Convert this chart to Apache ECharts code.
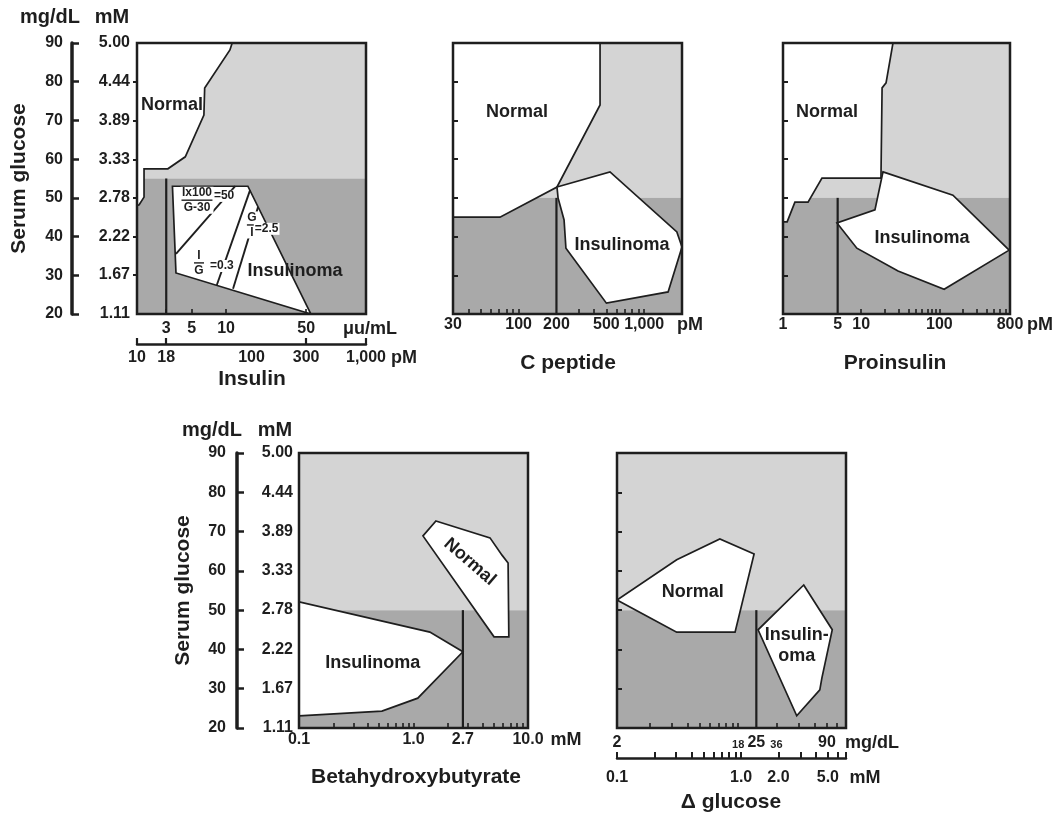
<!DOCTYPE html>
<html>
<head>
<meta charset="utf-8">
<script src="https://cdn.jsdelivr.net/npm/echarts@6/dist/echarts.min.js"></script>
<style>html,body{margin:0;padding:0;background:#fff}#c{width:1060px;height:813px}</style>
</head>
<body>
<div id="c"></div>
<script>
// ---------------- DATA ----------------
// Shared serum glucose scale
const glucoseRange = [20, 90];              // mg/dL
const glucoseMmRange = [1.11, 5.00];        // mM
const glucoseMmLabels = [1.11, 1.67, 2.22, 2.78, 3.33, 3.89, 4.44, 5.00];
const glucoseMmTicks = [1.67, 2.22, 2.78, 3.33, 3.89, 4.44];
const glucoseInnerTicks = [30, 40, 50, 60, 70, 80];

// Panel 1 - Insulin (x in μu/mL, second scale in pM)
const insulinUuRange = [10 / 6, 1000 / 6];
const insulinPmRange = [10, 1000];
const insulinUuLabels = [3, 5, 10, 50];
const insulinPmLabels = [10, 18, 100, 300, 1000];
const insulinPmTicks = [10, 18, 300, 1000];
const insulinSplit = 55;
const insulinCut = [[3, 20], [3, 55]];
const insulinNormal = [[1.667, 90], [11.3, 90], [10.8, 88.2], [6.5, 78.4], [6.4, 71.4], [4.4, 60.6], [3.1, 57.5], [1.92, 57.5], [1.92, 50.2], [1.74, 48.2], [1.667, 48]];
const insulinInsulinoma = [[3.4, 53], [15.5, 53], [55, 20], [3.65, 30.6]];
const insulinRatioIx = [[3.65, 35.5], [12, 53]];
const insulinRatioIG = [[8.3, 27.5], [16.2, 52]];
const insulinRatioGI = [[11.5, 26.5], [19, 47.6]];
const insulinText = [
  { name: 'Normal', value: [3.37, 74] },
  { name: 'Insulinoma', value: [40, 31.1] }
];
const insulinFormulas = [
  { name: 'Ix100|G-30|b30', value: [5.57, 49.4] },
  { name: '=50', value: [9.6, 50.5] },
  { name: 'I|G|b8', value: [5.8, 33.2] },
  { name: '=0.3', value: [9.2, 32.4] },
  { name: 'G|I|b8', value: [16.8, 43.0] },
  { name: '=2.5', value: [22.6, 42.0] }
];

// Panel 2 - C peptide (pM)
const cpepRange = [30, 2000];
const cpepLabels = [30, 100, 200, 500, 1000];
const cpepTicks = [40, 50, 60, 70, 80, 90, 100, 300, 400, 500, 600, 700, 800, 900, 1000];
const cpepSplit = 50;
const cpepCut = [[200, 20], [200, 50]];
const cpepNormal = [[30, 90], [445, 90], [445, 74], [202, 52.8], [71, 45], [30, 45]];
const cpepInsulinoma = [[202, 52.8], [534, 56.7], [1820, 41.2], [2000, 37.3], [1550, 25.7], [500, 22.8], [238, 37], [230, 44.3], [206, 50]];
const cpepText = [
  { name: 'Normal', value: [97, 72.2] },
  { name: 'Insulinoma', value: [666, 37.8] }
];

// Panel 3 - Proinsulin (pM)
const proinsRange = [1, 800];
const proinsLabels = [1, 5, 10, 100, 800];
const proinsTicks = [10, 20, 30, 40, 50, 60, 70, 80, 90, 100, 200, 300, 400, 500, 600, 700, 800];
const proinsSplit = 50;
const proinsCut = [[5, 20], [5, 50]];
const proinsNormal = [[1, 90], [25.5, 90], [20.8, 79.7], [18.5, 78.4], [17.9, 55.1], [3.15, 55.1], [2.09, 48.9], [1.42, 48.9], [1.13, 43.8], [1, 43.8]];
const proinsInsulinoma = [[19, 56.7], [149, 50.7], [780, 36.5], [115, 26.4], [29.6, 31.1], [8.8, 37], [4.9, 43.5], [15, 46.9]];
const proinsText = [
  { name: 'Normal', value: [3.65, 72.2] },
  { name: 'Insulinoma', value: [60, 39.6] }
];

// Panel 4 - Betahydroxybutyrate (mM)
const bhbRange = [0.1, 10];
const bhbLabels = [0.1, 1.0, 2.7, 10.0];
const bhbTicks = [0.2, 0.3, 0.4, 0.5, 0.6, 0.7, 0.8, 0.9, 1.0, 2, 3, 4, 5, 6, 7, 8, 9];
const bhbSplit = 50;
const bhbCut = [[2.7, 20], [2.7, 50]];
const bhbNormal = [[1.57, 72.7], [4.66, 68.4], [5.93, 64], [6.7, 62], [6.8, 43.2], [5.05, 43.2], [1.21, 68.9]];
const bhbInsulinoma = [[0.1, 52.1], [1.39, 44.4], [2.7, 39.4], [1.09, 27.6], [0.53, 24.3], [0.1, 23.1]];
const bhbText = [
  { name: 'Normal', value: [3.1, 62.3] },
  { name: 'Insulinoma', value: [0.44, 36.6] }
];

// Panel 5 - Δ glucose (mg/dL and mM)
const dgluMgRange = [2, 127];
const dgluMmRange = [0.1, 7.0];
const dgluMgLabels = [2, 18, 25, 36, 90];
const dgluMgTicks = [3.6, 5.4, 7.2, 9, 10.8, 12.6, 14.4, 16.2, 18, 36, 54, 72, 90, 108];
const dgluMmLabels = [0.1, 1.0, 2.0, 5.0];
const dgluMmTicks = [0.1, 0.2, 0.3, 0.4, 0.5, 0.6, 0.7, 0.8, 0.9, 1.0, 2, 3, 4, 5, 6, 7];
const dgluSplit = 50;
const dgluCut = [[25, 20], [25, 50]];
const dgluNormal = [[2, 52.6], [5.9, 62.8], [12.9, 68.1], [24, 64.3], [17, 44.4], [5.9, 44.4]];
const dgluInsulinoma = [[59, 56.4], [99, 45], [82, 32.7], [79, 29.7], [52, 23.1], [25.8, 45]];
const dgluText = [
  { name: 'Normal', value: [7.9, 54.6] },
  { name: 'Insulin-\noma', value: [52, 41.1] }
];

// ---------------- STYLE HELPERS ----------------
const INK = '#1e1e1e';
const LIGHT = '#d4d4d4';
const DARK = '#a9a9a9';
const FONT = '"Liberation Sans", Arial, Helvetica, sans-serif';
function txt(size, extra) {
  return Object.assign({ color: INK, fontFamily: FONT, fontWeight: 'bold', fontSize: size }, extra || {});
}
function withComma(v) {
  const n = Math.round(v);
  return n >= 1000 ? n.toLocaleString('en-US') : String(n);
}
function fixed1(v) { return (Math.round(v * 10) / 10).toFixed(1); }
function fixed2(v) { return v.toFixed(2); }
function yNameStyle(size, dx) {
  return txt(size, { align: 'center', verticalAlign: 'middle', padding: [0, Math.max(-2 * dx, 0), 0, Math.max(2 * dx, 0)] });
}
function xNameStyle(size, dy) {
  // text centred in a line box of 2*dy, hung from the axis line => centre lies dy below it
  return txt(size, { align: 'center', verticalAlign: 'top', lineHeight: 2 * dy });
}

function logX(grid, range, labels, ticks, fmt, margin, name, gap, dy, extra) {
  return Object.assign({
    type: 'log', logBase: 10, gridIndex: grid, min: range[0], max: range[1], position: 'bottom', z: 10,
    axisLine: { show: false },
    splitLine: { show: false }, minorTick: { show: false }, minorSplitLine: { show: false },
    axisTick: { show: true, inside: true, length: 5, customValues: ticks, lineStyle: { color: INK, width: 1.6 } },
    axisLabel: Object.assign({ customValues: labels, formatter: fmt, margin: margin, hideOverlap: false }, txt(16)),
    name: name, nameLocation: 'end', nameGap: gap, nameMoveOverlap: false, nameTextStyle: xNameStyle(18, dy)
  }, extra || {});
}
function innerY(grid) {
  return {
    type: 'value', gridIndex: grid, min: glucoseRange[0], max: glucoseRange[1], z: 10,
    axisLine: { show: false }, splitLine: { show: false },
    axisTick: { show: true, inside: true, length: 5, customValues: glucoseInnerTicks, lineStyle: { color: INK, width: 2 } },
    axisLabel: { show: false }
  };
}
function mmY(grid, margin, ticks, gap, dx) {
  return {
    type: 'value', gridIndex: grid, min: glucoseMmRange[0], max: glucoseMmRange[1], position: 'left', z: 10,
    axisLine: { show: false }, splitLine: { show: false },
    axisTick: ticks ? { show: true, inside: false, length: 4, customValues: glucoseMmTicks, lineStyle: { color: INK, width: 2 } } : { show: false },
    axisLabel: Object.assign({ customValues: glucoseMmLabels, formatter: fixed2, margin: margin }, txt(16)),
    name: 'mM', nameLocation: 'end', nameGap: gap, nameTextStyle: yNameStyle(20, dx)
  };
}
function mgY(grid, offset, margin, gap, dx) {
  return {
    type: 'value', gridIndex: grid, min: glucoseRange[0], max: glucoseRange[1], interval: 10, position: 'left', offset: offset, z: 10,
    axisLine: { show: true, lineStyle: { color: INK, width: 3.5 } }, splitLine: { show: false },
    axisTick: { show: true, inside: true, length: 7, lineStyle: { color: INK, width: 2.5 } },
    axisLabel: Object.assign({ margin: margin }, txt(16)),
    name: 'mg/dL', nameLocation: 'end', nameGap: gap, nameTextStyle: yNameStyle(20, dx)
  };
}
function titleY(grid, offset, gap) {
  return {
    type: 'value', gridIndex: grid, min: glucoseRange[0], max: glucoseRange[1], position: 'left', offset: offset,
    axisLine: { show: false }, axisTick: { show: false }, axisLabel: { show: false }, splitLine: { show: false },
    name: 'Serum glucose', nameLocation: 'middle', nameGap: gap, nameRotate: 90, nameTextStyle: txt(21)
  };
}

const series = [];
function poly(xi, yi, pts, fill, stroke, z) {
  return {
    type: 'custom', coordinateSystem: 'cartesian2d', xAxisIndex: xi, yAxisIndex: yi, z: z, silent: true, clip: true,
    data: pts, encode: { x: 0, y: 1 },
    renderItem: function (params, api) {
      if (params.dataIndex !== 0) return null;
      return {
        type: 'polygon',
        shape: { points: pts.map(function (p) { return api.coord(p); }) },
        style: { fill: fill, stroke: stroke ? INK : null, lineWidth: 1.7, lineJoin: 'miter' }
      };
    }
  };
}
function background(xi, yi, xr, split) {
  const top = glucoseRange[1], bot = glucoseRange[0];
  series.push(poly(xi, yi, [[xr[0], split], [xr[1], split], [xr[1], top], [xr[0], top]], LIGHT, false, 1));
  series.push(poly(xi, yi, [[xr[0], bot], [xr[1], bot], [xr[1], split], [xr[0], split]], DARK, false, 1));
}
function seg(xi, yi, pts, w) {
  series.push({
    type: 'line', xAxisIndex: xi, yAxisIndex: yi, data: pts, symbol: 'none', silent: true, z: 6,
    lineStyle: { color: INK, width: w }
  });
}
function texts(xi, yi, items, size, opts) {
  opts = opts || {};
  series.push({
    type: 'custom', coordinateSystem: 'cartesian2d', xAxisIndex: xi, yAxisIndex: yi, z: 8, silent: true, clip: false,
    data: items.map(function (it) { return it.value; }), encode: { x: 0, y: 1 },
    renderItem: function (params, api) {
      const it = items[params.dataIndex];
      const p = api.coord(it.value);
      const style = {
        text: opts.format ? opts.format(it.name) : it.name,
        fill: INK, fontSize: size, fontWeight: 'bold', fontFamily: FONT,
        align: 'center', verticalAlign: 'middle', lineHeight: opts.lineHeight || size + 3
      };
      if (opts.bg) { style.backgroundColor = opts.bg; style.padding = [0, 1, 0, 1]; }
      if (opts.rich) style.rich = opts.rich;
      const rot = (opts.rotate && opts.rotate[it.name]) || 0;
      return { type: 'text', x: p[0], y: p[1], rotation: rot * Math.PI / 180, style: style };
    }
  });
}
function panel(xi, yi, xr, split, normal, insulinoma, cut, labels, textOpts) {
  background(xi, yi, xr, split);
  series.push(poly(xi, yi, normal, '#ffffff', true, 3));
  series.push(poly(xi, yi, insulinoma, '#ffffff', true, 3));
  seg(xi, yi, cut, 2.2);
  texts(xi, yi, labels, 18, textOpts);
}

// ---- panels ----
panel(0, 1, insulinUuRange, insulinSplit, insulinNormal, insulinInsulinoma, insulinCut, insulinText);
seg(0, 1, insulinRatioIx, 1.9);
seg(0, 1, insulinRatioIG, 1.9);
seg(0, 1, insulinRatioGI, 1.9);
const fracFont = { fill: INK, fontSize: 12, fontWeight: 'bold', fontFamily: FONT, lineHeight: 12 };
texts(0, 1, insulinFormulas, 12, {
  bg: '#ffffff', lineHeight: 12,
  format: function (name) {
    const parts = name.split('|');
    if (parts.length === 3) return '{n|' + parts[0] + '}\n{' + parts[2] + '| }\n{n|' + parts[1] + '}';
    return name;
  },
  rich: {
    n: Object.assign({ align: 'center' }, fracFont),
    b30: { width: 31, height: 1.4, lineHeight: 3, fontSize: 1, backgroundColor: INK, align: 'center' },
    b8: { width: 10, height: 1.4, lineHeight: 3, fontSize: 1, backgroundColor: INK, align: 'center' }
  }
});
panel(2, 3, cpepRange, cpepSplit, cpepNormal, cpepInsulinoma, cpepCut, cpepText);
panel(3, 4, proinsRange, proinsSplit, proinsNormal, proinsInsulinoma, proinsCut, proinsText);
panel(4, 6, bhbRange, bhbSplit, bhbNormal, bhbInsulinoma, bhbCut, bhbText, { rotate: { 'Normal': -41 } });
panel(5, 8, dgluMgRange, dgluSplit, dgluNormal, dgluInsulinoma, dgluCut, dgluText, { lineHeight: 21 });

const gridBase = { show: true, borderColor: INK, borderWidth: 2.5, backgroundColor: 'transparent', z: 10, containLabel: false, outerBoundsMode: 'none' };
const dgluMgFmt = function (v) {
  const n = Math.round(v);
  return (n === 18 || n === 36) ? '{s|' + n + '}' : String(n);
};
const option = {
  animation: false,
  backgroundColor: '#ffffff',
  grid: [
    Object.assign({ left: 137, top: 43, width: 229, height: 271 }, gridBase),
    Object.assign({ left: 453, top: 43, width: 229, height: 271 }, gridBase),
    Object.assign({ left: 783, top: 43, width: 227, height: 271 }, gridBase),
    Object.assign({ left: 299, top: 453, width: 229, height: 275 }, gridBase),
    Object.assign({ left: 617, top: 453, width: 229, height: 275 }, gridBase)
  ],
  xAxis: [
    logX(0, insulinUuRange, insulinUuLabels, insulinUuLabels, withComma, 7, 'μu/mL', 4, 15),
    logX(0, insulinPmRange, insulinPmLabels, insulinPmTicks, withComma, 6, 'pM', 38, 14, {
      offset: 30, axisLine: { show: true, lineStyle: { color: INK, width: 2.5 } },
      axisTick: { show: true, inside: true, length: 6, customValues: insulinPmTicks, lineStyle: { color: INK, width: 2.2 } }
    }),
    logX(1, cpepRange, cpepLabels, cpepTicks, withComma, 3, 'pM', 8, 11),
    logX(2, proinsRange, proinsLabels, proinsTicks, withComma, 3, 'pM', 30, 11),
    logX(3, bhbRange, bhbLabels, bhbTicks, fixed1, 4, 'mM', 38, 12),
    logX(4, dgluMgRange, dgluMgLabels, dgluMgTicks, dgluMgFmt, 7, 'mg/dL', 26, 15, {
      axisLabel: Object.assign({
        customValues: dgluMgLabels, margin: 7, hideOverlap: false, formatter: dgluMgFmt,
        rich: { s: txt(11, { padding: [4, 0, 0, 0] }) }
      }, txt(16))
    }),
    logX(4, dgluMmRange, dgluMmLabels, dgluMmTicks, fixed1, 12, 'mM', 19, 20, {
      offset: 30, axisLine: { show: true, lineStyle: { color: INK, width: 2.5 } },
      axisTick: { show: true, inside: true, length: 6, customValues: dgluMmTicks, lineStyle: { color: INK, width: 2 } }
    })
  ],
  yAxis: [
    mmY(0, 7, true, 26, -25),
    mgY(0, 65, 9, 26, -22),
    titleY(0, 65, 42),
    innerY(1),
    innerY(2),
    mmY(3, 6, false, 23, -24),
    mgY(3, 62, 11, 23, -25),
    titleY(3, 62, 43),
    innerY(4)
  ],
  graphic: [
    { type: 'text', x: 252, y: 379, style: { text: 'Insulin', fill: INK, font: 'bold 21px ' + FONT, align: 'center', verticalAlign: 'middle', textAlign: 'center', textVerticalAlign: 'middle' } },
    { type: 'text', x: 568, y: 363, style: { text: 'C peptide', fill: INK, font: 'bold 21px ' + FONT, align: 'center', verticalAlign: 'middle', textAlign: 'center', textVerticalAlign: 'middle' } },
    { type: 'text', x: 895, y: 363, style: { text: 'Proinsulin', fill: INK, font: 'bold 21px ' + FONT, align: 'center', verticalAlign: 'middle', textAlign: 'center', textVerticalAlign: 'middle' } },
    { type: 'text', x: 416, y: 777, style: { text: 'Betahydroxybutyrate', fill: INK, font: 'bold 21px ' + FONT, align: 'center', verticalAlign: 'middle', textAlign: 'center', textVerticalAlign: 'middle' } },
    { type: 'text', x: 731, y: 802, style: { text: 'Δ glucose', fill: INK, font: 'bold 21px ' + FONT, align: 'center', verticalAlign: 'middle', textAlign: 'center', textVerticalAlign: 'middle' } }
  ],
  series: series
};
const chart = echarts.init(document.getElementById('c'), null, { renderer: 'canvas' });
chart.setOption(option);
</script>
</body>
</html>
